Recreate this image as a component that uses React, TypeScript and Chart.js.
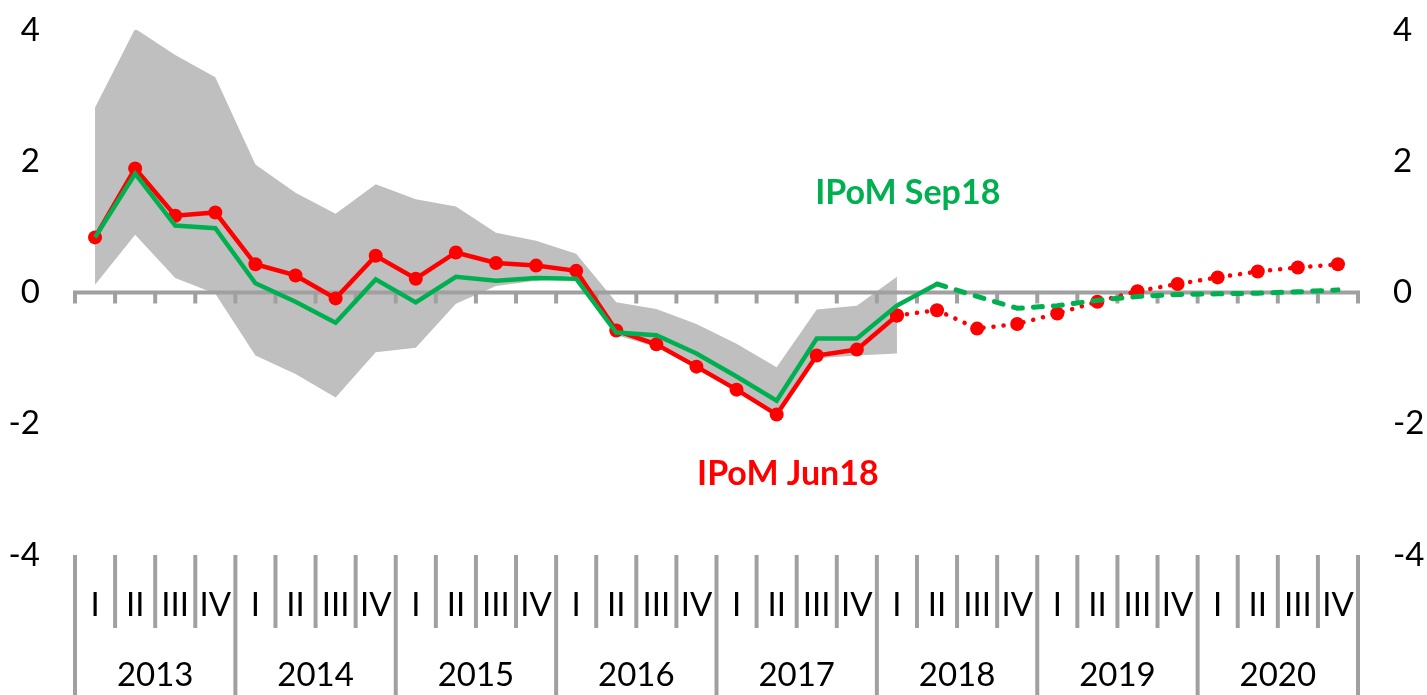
import React, { useEffect, useRef } from "react";
import { Chart, registerables } from "chart.js";

Chart.register(...registerables);

// ---------- data ----------
const years = ["2013", "2014", "2015", "2016", "2017", "2018", "2019", "2020"];
const quarters = ["I", "II", "III", "IV"];
const categories = years.flatMap((y) => quarters.map((q) => `${q} ${y}`));
const yTicks = [-4, -2, 0, 2, 4];

// Shaded band (2013 I .. 2018 I)
const bandUpper = [
  2.82, 4.02, 3.62, 3.28,
  1.95, 1.52, 1.2, 1.65,
  1.42, 1.31, 0.91, 0.79,
  0.59, -0.15, -0.25, -0.48,
  -0.78, -1.14, -0.26, -0.2,
  0.24,
];
const bandLower = [
  0.12, 0.88, 0.22, -0.02,
  -0.96, -1.24, -1.6, -0.91,
  -0.84, -0.17, 0.1, 0.18,
  0.27, -0.65, -0.83, -1.15,
  -1.5, -1.9, -1.0, -0.96,
  -0.93,
];

// IPoM Jun18: history 2013 I .. 2018 I, projection 2018 I .. 2020 IV
const jun18Hist = [
  0.84, 1.89, 1.17, 1.22,
  0.43, 0.26, -0.09, 0.56,
  0.21, 0.61, 0.45, 0.41,
  0.33, -0.58, -0.79, -1.13,
  -1.48, -1.86, -0.96, -0.87,
  -0.35,
];
const jun18Proj = [
  -0.35, -0.27, -0.55, -0.48,
  -0.32, -0.14, 0.02, 0.13,
  0.23, 0.32, 0.38, 0.43,
];
const jun18ProjStart = 20;

// IPoM Sep18: history 2013 I .. 2018 II, projection 2018 II .. 2020 IV
const sep18Hist = [
  0.84, 1.81, 1.02, 0.98,
  0.14, -0.14, -0.46, 0.2,
  -0.15, 0.24, 0.18, 0.22,
  0.21, -0.61, -0.65, -0.93,
  -1.28, -1.65, -0.7, -0.7,
  -0.2, 0.13,
];
const sep18Proj = [
  0.13, -0.06, -0.24,
  -0.2, -0.12, -0.06, -0.03,
  -0.02, -0.01, 0.01, 0.04,
];
const sep18ProjStart = 21;

const labelSep = { text: "IPoM Sep18", x: 20.27, y: 1.52 };
const labelJun = { text: "IPoM Jun18", x: 17.28, y: -2.77 };

// ---------- styles ----------
const RED = "#ff0000";
const GREEN = "#00b050";
const BAND = "#bfbfbf";
const AXIS = "#a0a0a0";
const FONT = "Lato, 'Noto Sans', sans-serif";

const pad = (arr: number[], start: number) =>
  categories.map((_, i) =>
    i >= start && i - start < arr.length ? arr[i - start] : null
  );

const decorPlugin = {
  id: "decor",
  beforeDatasetsDraw(chart: any) {
    const { ctx, chartArea, scales } = chart;
    const x = scales.x;
    const y = scales.y;
    const y0 = y.getPixelForValue(0);
    ctx.save();
    ctx.strokeStyle = AXIS;
    ctx.lineWidth = 4;
    ctx.beginPath();
    ctx.moveTo(chartArea.left - 2, y0);
    ctx.lineTo(chartArea.right + 2, y0);
    ctx.stroke();
    for (let k = 0; k <= categories.length; k++) {
      const bx = x.getPixelForValue(k - 0.5);
      ctx.beginPath();
      ctx.moveTo(bx, y0);
      ctx.lineTo(bx, y0 + 11);
      ctx.stroke();
    }
    ctx.restore();
  },
  afterDraw(chart: any) {
    const { ctx, chartArea, scales } = chart;
    const x = scales.x;
    const y = scales.y;
    const top = chartArea.bottom;
    const H = chart.height;
    ctx.save();
    ctx.strokeStyle = AXIS;
    ctx.lineWidth = 4;
    for (let k = 0; k <= categories.length; k++) {
      const bx = x.getPixelForValue(k - 0.5);
      ctx.beginPath();
      ctx.moveTo(bx, top);
      ctx.lineTo(bx, k % 4 === 0 ? H : top + 73);
      ctx.stroke();
    }
    ctx.fillStyle = "#000";
    ctx.textAlign = "center";
    ctx.textBaseline = "middle";
    ctx.font = `33px ${FONT}`;
    categories.forEach((_, i) => {
      ctx.fillText(quarters[i % 4], x.getPixelForValue(i), top + 50);
    });
    years.forEach((yr, j) => {
      const cx = (x.getPixelForValue(j * 4) + x.getPixelForValue(j * 4 + 3)) / 2;
      ctx.fillText(yr, cx, top + 120);
    });
    ctx.font = `bold 34px ${FONT}`;
    ctx.fillStyle = GREEN;
    ctx.fillText(labelSep.text, x.getPixelForValue(labelSep.x), y.getPixelForValue(labelSep.y));
    ctx.fillStyle = RED;
    ctx.fillText(labelJun.text, x.getPixelForValue(labelJun.x), y.getPixelForValue(labelJun.y));
    ctx.restore();
  },
};

export default function App() {
  const ref = useRef<HTMLCanvasElement | null>(null);
  useEffect(() => {
    if (!ref.current) return;
    const yAxisBase = (position: "left" | "right", width: number) => ({
      type: "linear" as const,
      position,
      min: -4,
      max: 4,
      afterBuildTicks: (s: any) => {
        s.ticks = yTicks.map((v) => ({ value: v }));
      },
      afterFit: (s: any) => {
        s.width = width;
        s.paddingTop = 0;
        s.paddingBottom = 0;
      },
      grid: { display: false, drawTicks: false },
      border: { display: false },
      ticks: {
        padding: 35,
        color: "#000",
        font: { family: FONT, size: 33 },
      },
    });
    const chart = new Chart(ref.current, {
      type: "line",
      data: {
        labels: categories,
        datasets: [
          {
            data: pad(bandUpper, 0),
            fill: "+1",
            backgroundColor: BAND,
            borderWidth: 0,
            pointRadius: 0,
            order: 5,
            tension: 0,
          },
          {
            data: pad(bandLower, 0),
            fill: false,
            borderWidth: 0,
            pointRadius: 0,
            order: 6,
          },
          {
            data: pad(sep18Hist, 0),
            borderColor: GREEN,
            borderWidth: 4.5,
            pointRadius: 0,
            fill: false,
            order: 1,
          },
          {
            data: pad(sep18Proj, sep18ProjStart),
            borderColor: GREEN,
            borderWidth: 5,
            borderDash: [9, 11],
            borderCapStyle: "round",
            pointRadius: 0,
            fill: false,
            order: 1,
          },
          {
            data: pad(jun18Hist, 0),
            borderColor: RED,
            borderWidth: 4.5,
            pointRadius: 7,
            pointBackgroundColor: RED,
            pointBorderWidth: 0,
            fill: false,
            order: 2,
          },
          {
            data: pad(jun18Proj, jun18ProjStart),
            borderColor: RED,
            borderWidth: 4.5,
            borderDash: [0.1, 10],
            borderCapStyle: "round",
            pointRadius: 7,
            pointBackgroundColor: RED,
            pointBorderWidth: 0,
            fill: false,
            order: 2,
          },
        ],
      },
      options: {
        responsive: false,
        animation: false,
        layout: { padding: { top: 30, bottom: 140, left: 0, right: 0 } },
        plugins: {
          legend: { display: false },
          tooltip: { enabled: false },
          filler: { drawTime: "beforeDatasetsDraw" },
        },
        scales: {
          x: { type: "category", offset: true, display: false },
          y: yAxisBase("left", 75),
          y1: yAxisBase("right", 69),
        },
      },
      plugins: [decorPlugin],
    } as any);
    return () => chart.destroy();
  }, []);
  return (
    <div style={{ position: "absolute", left: 0, top: 0, width: 1427, height: 695, background: "#fff" }}>
      <canvas ref={ref} width={1427} height={695} />
    </div>
  );
}
